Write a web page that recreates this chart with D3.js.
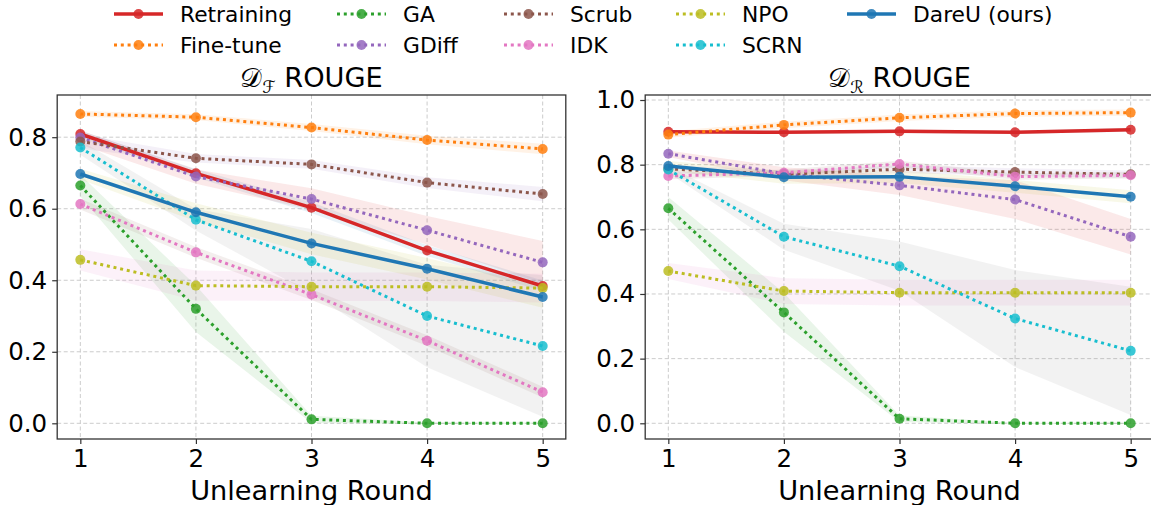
<!DOCTYPE html>
<html>
<head>
<meta charset="utf-8">
<script src="https://cdn.jsdelivr.net/npm/d3@7"></script>
<style>
  body { margin: 0; background: #fff; }
  svg { font-family: "DejaVu Sans", sans-serif; }
</style>
</head>
<body>
<svg id="chart" width="1151" height="505"></svg>
<script>
var svg = d3.select("#chart");

var rounds = [1, 2, 3, 4, 5];
var methods = ["Retraining", "Fine-tune", "GA", "GDiff", "Scrub", "IDK", "NPO", "SCRN", "DareU (ours)"];
var lineColors = ["#d62728", "#ff7f0e", "#2ca02c", "#9467bd", "#8c564b", "#e377c2", "#bcbd22", "#17becf", "#1f77b4"];
// fill_between picked colours from the default cycle, so bands are "off by one"
var bandColors = ["#1f77b4", "#ff7f0e", "#2ca02c", "#d62728", "#9467bd", "#8c564b", "#e377c2", "#7f7f7f", "#bcbd22"];
var solid = [true, false, false, false, false, false, false, false, true];

// D_F ROUGE, mean per round
var forgetMean = [
	[0.809, 0.699, 0.603, 0.483, 0.384],
	[0.865, 0.856, 0.827, 0.792, 0.767],
	[0.665, 0.320, 0.011, 0.000, 0.000],
	[0.799, 0.690, 0.627, 0.540, 0.450],
	[0.788, 0.741, 0.724, 0.673, 0.641],
	[0.613, 0.478, 0.360, 0.231, 0.087],
	[0.457, 0.385, 0.382, 0.382, 0.378],
	[0.771, 0.569, 0.453, 0.300, 0.216],
	[0.697, 0.590, 0.503, 0.432, 0.353]
];
var forgetStd = [
	[0.010, 0.012, 0.015, 0.015, 0.015],
	[0.008, 0.008, 0.010, 0.012, 0.015],
	[0.030, 0.065, 0.010, 0.002, 0.002],
	[0.020, 0.020, 0.030, 0.040, 0.060],
	[0.020, 0.012, 0.012, 0.015, 0.020],
	[0.015, 0.015, 0.015, 0.015, 0.015],
	[0.030, 0.042, 0.040, 0.040, 0.040],
	[0.020, 0.030, 0.090, 0.143, 0.198],
	[0.015, 0.025, 0.030, 0.030, 0.030]
];

// D_R ROUGE, mean per round
var retainMean = [
	[0.902, 0.900, 0.903, 0.900, 0.908],
	[0.893, 0.923, 0.945, 0.958, 0.961],
	[0.665, 0.343, 0.014, 0.000, 0.000],
	[0.834, 0.772, 0.736, 0.692, 0.577],
	[0.787, 0.770, 0.786, 0.777, 0.770],
	[0.765, 0.775, 0.802, 0.763, 0.767],
	[0.471, 0.409, 0.404, 0.404, 0.404],
	[0.785, 0.577, 0.486, 0.324, 0.224],
	[0.796, 0.761, 0.763, 0.733, 0.701]
];
var retainStd = [
	[0.005, 0.005, 0.005, 0.005, 0.006],
	[0.010, 0.010, 0.010, 0.010, 0.010],
	[0.035, 0.060, 0.010, 0.002, 0.002],
	[0.010, 0.020, 0.030, 0.060, 0.055],
	[0.012, 0.012, 0.012, 0.012, 0.012],
	[0.010, 0.010, 0.010, 0.010, 0.010],
	[0.025, 0.040, 0.040, 0.040, 0.040],
	[0.010, 0.040, 0.076, 0.150, 0.198],
	[0.015, 0.020, 0.020, 0.020, 0.020]
];

var yTicksF = [0.0, 0.2, 0.4, 0.6, 0.8];
var yTicksR = [0.0, 0.2, 0.4, 0.6, 0.8, 1.0];

var plotTop = 95, plotBottom = 439;

function renderPanel(opt){
	var g = svg.append("g");
	var xScale = d3.scaleLinear().domain([0.8, 5.2]).range([opt.left, opt.right]);
	var yScale = d3.scaleLinear().domain(opt.yDomain).range([plotBottom, plotTop]);

	var clipId = "clip" + opt.id;
	svg.append("clipPath").attr("id", clipId).append("rect")
		.attr("x", opt.left).attr("y", plotTop)
		.attr("width", opt.right - opt.left).attr("height", plotBottom - plotTop);

	// grid
	g.selectAll(".gx").data(rounds).enter().append("line")
		.attr("x1", d => xScale(d)).attr("x2", d => xScale(d))
		.attr("y1", plotTop).attr("y2", plotBottom)
		.attr("stroke", "#cccccc").attr("stroke-width", 1).attr("stroke-dasharray", "4,2.5");
	g.selectAll(".gy").data(opt.ticks).enter().append("line")
		.attr("x1", opt.left).attr("x2", opt.right)
		.attr("y1", d => yScale(d)).attr("y2", d => yScale(d))
		.attr("stroke", "#cccccc").attr("stroke-width", 1).attr("stroke-dasharray", "4,2.5");

	var plot = g.append("g").attr("clip-path", "url(#" + clipId + ")");

	// bands first (patches sit under lines)
	var area = d3.area()
		.x((d, i) => xScale(rounds[i]))
		.y0(d => yScale(d[0] - d[1]))
		.y1(d => yScale(d[0] + d[1]));
	methods.forEach(function(m, k){
		var pts = opt.mean[k].map((v, i) => [v, opt.std[k][i]]);
		plot.append("path").datum(pts)
			.attr("d", area)
			.attr("fill", bandColors[k])
			.attr("fill-opacity", 0.1);
	});

	var line = d3.line().x((d, i) => xScale(rounds[i])).y(d => yScale(d));
	methods.forEach(function(m, k){
		var s = plot.append("g");
		s.append("path").datum(opt.mean[k])
			.attr("d", line)
			.attr("fill", "none")
			.attr("stroke", lineColors[k])
			.attr("stroke-width", solid[k] ? 3.5 : 3)
			.attr("stroke-dasharray", solid[k] ? null : "3,3.8");
		s.selectAll("circle").data(opt.mean[k]).enter().append("circle")
			.attr("cx", (d, i) => xScale(rounds[i]))
			.attr("cy", d => yScale(d))
			.attr("r", 5)
			.attr("fill", lineColors[k])
			.attr("fill-opacity", 0.85);
	});

	// axes
	var xAxis = d3.axisBottom(xScale).tickValues(rounds).tickFormat(d3.format("d")).tickSize(5).tickPadding(6);
	var yAxis = d3.axisLeft(yScale).tickValues(opt.ticks).tickFormat(d3.format(".1f")).tickSize(5).tickPadding(5);
	var gx = g.append("g").attr("transform", "translate(0," + plotBottom + ")").call(xAxis);
	var gy = g.append("g").attr("transform", "translate(" + opt.left + ",0)").call(yAxis);
	[gx, gy].forEach(function(a){
		a.select(".domain").remove();
		a.selectAll(".tick line").attr("stroke", "#333").attr("stroke-width", 1.2);
		a.selectAll(".tick text").attr("fill", "#000").attr("font-size", 24.5)
			.attr("font-family", "DejaVu Sans");
	});

	g.append("rect")
		.attr("x", opt.left).attr("y", plotTop)
		.attr("width", opt.right - opt.left).attr("height", plotBottom - plotTop)
		.attr("fill", "none").attr("stroke", "#333").attr("stroke-width", 1.3);

	// title
	var t = g.append("text")
		.attr("x", (opt.left + opt.right) / 2).attr("y", 87)
		.attr("text-anchor", "middle").attr("font-size", 27.2);
	t.append("tspan").text("\u{1D49F}");
	t.append("tspan").attr("font-size", 17).attr("dy", 6).text(opt.sub);
	t.append("tspan").attr("dy", -6).text(" ROUGE");

	g.append("text")
		.attr("x", (opt.left + opt.right) / 2).attr("y", 500)
		.attr("text-anchor", "middle").attr("font-size", 27.2)
		.text("Unlearning Round");
}

renderPanel({id: "F", left: 57.2, right: 565.8, yDomain: [-0.0439, 0.918], ticks: yTicksF,
	mean: forgetMean, std: forgetStd, sub: "\u2131"});
renderPanel({id: "R", left: 645.2, right: 1153.8, yDomain: [-0.0486, 1.0155], ticks: yTicksR,
	mean: retainMean, std: retainStd, sub: "\u211B"});

// legend: 2 rows, filled column by column like matplotlib ncol=5
var legendX = [180, 403, 570, 742, 913];
var legendY = [14, 45];
var legend = svg.append("g");
methods.forEach(function(m, k){
	var col = Math.floor(k / 2), row = k % 2;
	var tx = legendX[col], cy = legendY[row];
	var item = legend.append("g");
	item.append("line")
		.attr("x1", tx - 66).attr("x2", tx - 17)
		.attr("y1", cy).attr("y2", cy)
		.attr("stroke", lineColors[k])
		.attr("stroke-width", solid[k] ? 3.5 : 3)
		.attr("stroke-dasharray", solid[k] ? null : "3,3.8");
	item.append("circle")
		.attr("cx", tx - 41.5).attr("cy", cy).attr("r", 5)
		.attr("fill", lineColors[k]).attr("fill-opacity", 0.85);
	item.append("text")
		.attr("x", tx).attr("y", cy + 8)
		.attr("font-size", 21.8)
		.text(m);
});
</script>
</body>
</html>
